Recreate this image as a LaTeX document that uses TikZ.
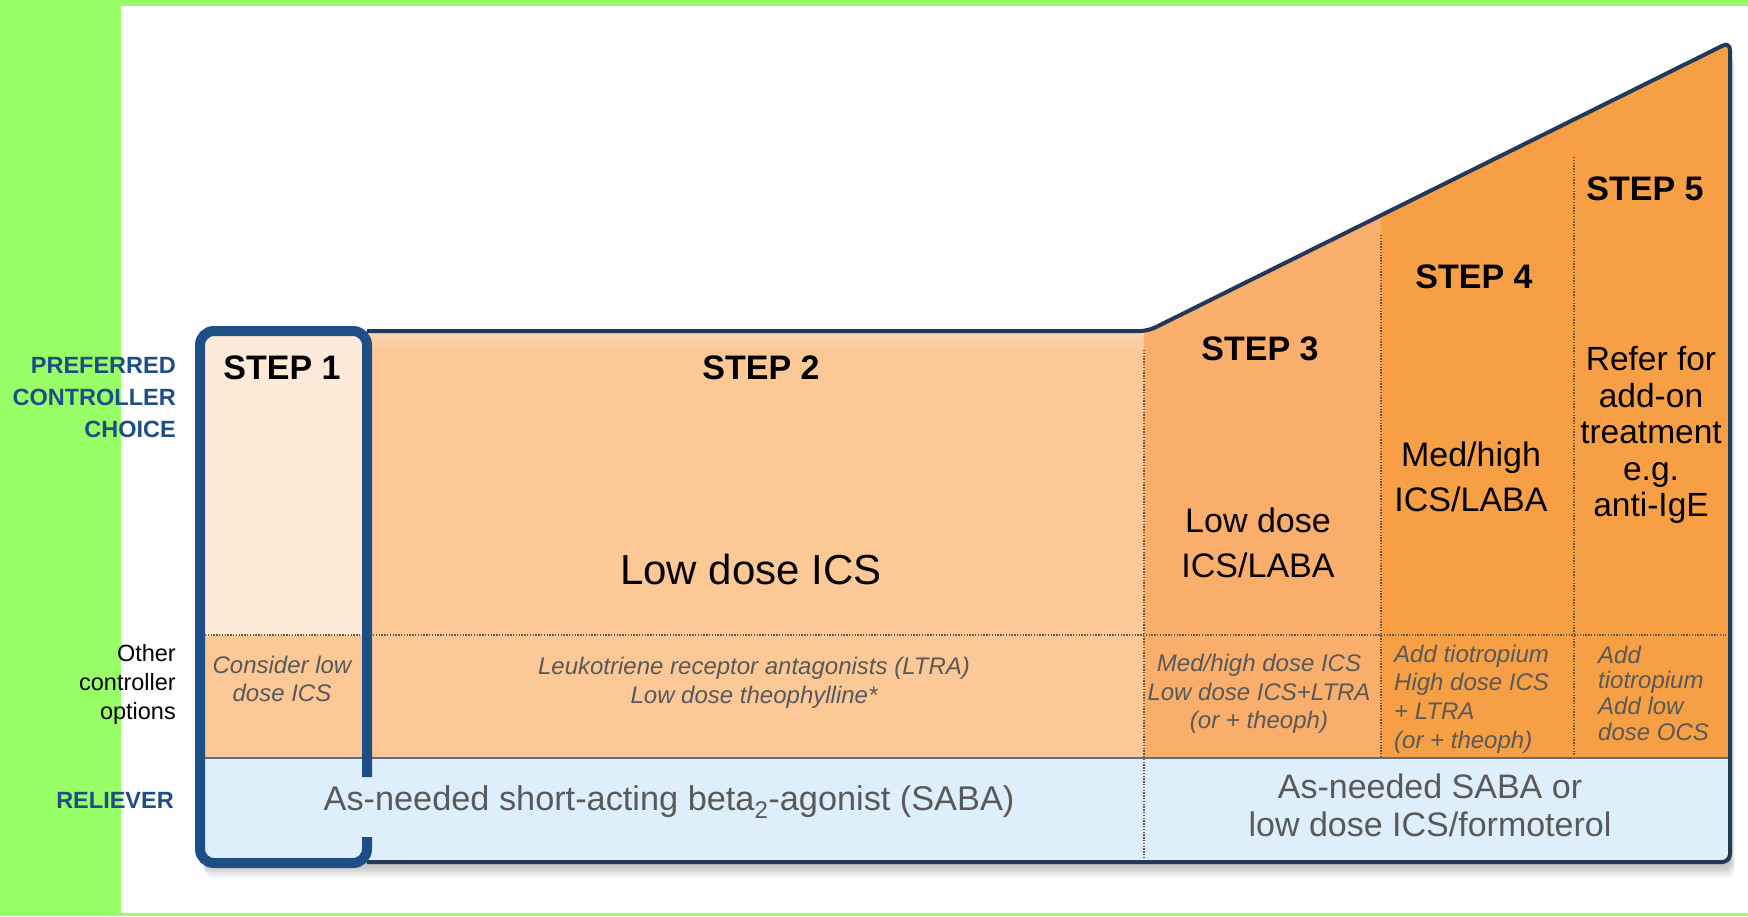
\documentclass[tikz,border=0pt]{standalone}
\usepackage{fontspec}
\setmainfont{Liberation Sans}
\usetikzlibrary{calc}

\definecolor{bandgreen}{HTML}{99FF66}
\definecolor{stepone}{HTML}{FDEAD9}
\definecolor{steptwo}{HTML}{FBC896}
\definecolor{steptwolight}{HTML}{F9D5B2}
\definecolor{stepthree}{HTML}{F9AF6B}
\definecolor{stepfour}{HTML}{F79F45}
\definecolor{relief}{HTML}{DDEFFB}
\definecolor{navy}{HTML}{1D4E85}
\definecolor{outline}{HTML}{22395A}
\definecolor{labelblue}{HTML}{1F4E87}
\definecolor{dotcol}{HTML}{6B5A46}
\definecolor{txtgray}{HTML}{595959}
\definecolor{sepgray}{HTML}{5F6E7E}

\tikzset{
  steplabel/.style={font=\fontsize{34}{40}\selectfont\bfseries, inner sep=0pt},
  maintext/.style={font=\fontsize{34}{45}\selectfont, align=center, inner sep=0pt},
  othertext/.style={font=\fontsize{24}{29}\selectfont\itshape, text=txtgray, align=center, inner sep=0pt},
  rowlabel/.style={font=\fontsize{23.5}{32}\selectfont\bfseries, text=labelblue, align=right, anchor=east, inner sep=0pt},
  relieftext/.style={font=\fontsize{34}{38}\selectfont, text=txtgray, align=center, inner sep=0pt},
  divider/.style={dotcol, line width=2.6pt, dash pattern=on 1.4pt off 1.4pt},
}

\begin{document}
\begin{tikzpicture}[x=1pt, y=-1pt]
  \useasboundingbox (0,0) rectangle (1748,916);

  % page frame bands
  \fill[white] (0,0) rectangle (1748,916);
  \fill[bandgreen] (0,0) rectangle (121,916);
  \fill[bandgreen] (121,0) rectangle (1748,6);
  \fill[bandgreen] (121,913) rectangle (1748,916);

  % key points of the staircase outline
  \coordinate (topleft) at (200,331);
  \coordinate (kink) at (1148,331);
  \coordinate (apex) at (1730,42);
  \coordinate (botright) at (1730,862);
  \coordinate (botleft) at (200,862);

  % soft shadow under the chart
  \foreach \d in {2,4,...,16} {
    \fill[black, opacity=0.035, rounded corners=8pt]
      ($(topleft)+(\d*0.3,\d)$) -- ($(kink)+(\d*0.3,\d)$) -- ($(apex)+(\d*0.3,\d)$)
      -- ($(botright)+(\d*0.3,\d)$) -- ($(botleft)+(\d*0.3,\d)$) -- cycle;
  }

  % column fills, clipped to the outline
  \begin{scope}
    \clip[rounded corners=8pt] (topleft) -- (kink) -- (apex) -- (botright) -- (botleft) -- cycle;
    \fill[stepfour] (200,0) rectangle (1740,870);
    \fill[stepthree] (1144,0) rectangle (1381,758);
    \fill[steptwo] (200,0) rectangle (1144,758);
    \shade[top color=steptwolight, bottom color=steptwo] (367,333) rectangle (1144,352);
    \fill[stepone] (200,0) rectangle (367,635);
    \fill[relief] (200,758) rectangle (1740,870);
  \end{scope}

  % row separators
  \draw[divider] (205,635) -- (1726,635);
  \draw[sepgray, line width=2pt] (200,758) -- (1730,758);

  % column separators
  \draw[divider] (1144,350) -- (1144,857);
  \draw[divider] (1381,235) -- (1381,756);
  \draw[divider] (1574,157) -- (1574,756);

  % staircase outline
  \draw[outline, line width=4pt, rounded corners=8pt]
    (367,331) -- (kink) -- (apex) -- (botright) -- (367,862);

  % step 1 frame, open where the reliever text passes
  \draw[navy, line width=10pt, rounded corners=14pt]
    (367,777) -- (367,331) -- (200,331) -- (200,863) -- (367,863) -- (367,837);

  % row labels
  \node[rowlabel] (lblpref) at (176,398) {PREFERRED\\CONTROLLER\\CHOICE};
  \node[font=\fontsize{23.5}{29}\selectfont, align=right, anchor=east, inner sep=0pt]
    (lblother) at (176,684) {Other\\controller\\options};
  \node[rowlabel] (lblrel) at (174,800) {RELIEVER};

  % step headings
  \node[steplabel] (s1) at (282,368) {STEP 1};
  \node[steplabel] (s2) at (761,368) {STEP 2};
  \node[steplabel] (s3) at (1260,349) {STEP 3};
  \node[steplabel] (s4) at (1474,277) {STEP 4};
  \node[steplabel] (s5) at (1645,189) {STEP 5};

  % preferred controller choice
  \node[font=\fontsize{42}{48}\selectfont, inner sep=0pt] (p2) at (751,569) {Low dose ICS};
  \node[maintext] (p3) at (1258,543) {Low dose\\ICS/LABA};
  \node[maintext] (p4) at (1471,477) {Med/high\\ICS/LABA};
  \node[maintext, font=\fontsize{33.5}{36.5}\selectfont] (p5) at (1651,435)
    {Refer for\\add-on\\treatment\\e.g.\\anti-IgE};

  % other controller options
  \node[othertext, font=\fontsize{24}{28}\selectfont\itshape] (o1) at (282,679) {Consider low\\dose ICS};
  \node[othertext] (o2) at (754,683) {Leukotriene receptor antagonists (LTRA)\\Low dose theophylline*};
  \node[othertext, font=\fontsize{24}{28.5}\selectfont\itshape] (o3) at (1259,694)
    {Med/high dose ICS\\Low dose ICS+LTRA\\(or + theoph)};
  \node[othertext, align=left, anchor=west, font=\fontsize{24}{28.7}\selectfont\itshape] (o4) at (1394,699)
    {Add tiotropium\\High dose ICS\\+ LTRA\\(or + theoph)};
  \node[othertext, align=left, anchor=west, font=\fontsize{24}{25.7}\selectfont\itshape] (o5) at (1598,693)
    {Add\\tiotropium\\Add low\\dose OCS};

  % reliever
  \node[relieftext, font=\fontsize{34.3}{38}\selectfont] (r1) at (669,802) {As-needed short-acting beta\textsubscript{2}-agonist (SABA)};
  \node[relieftext] (r2) at (1430,805) {As-needed SABA or\\low dose ICS/formoterol};
\end{tikzpicture}
\end{document}
